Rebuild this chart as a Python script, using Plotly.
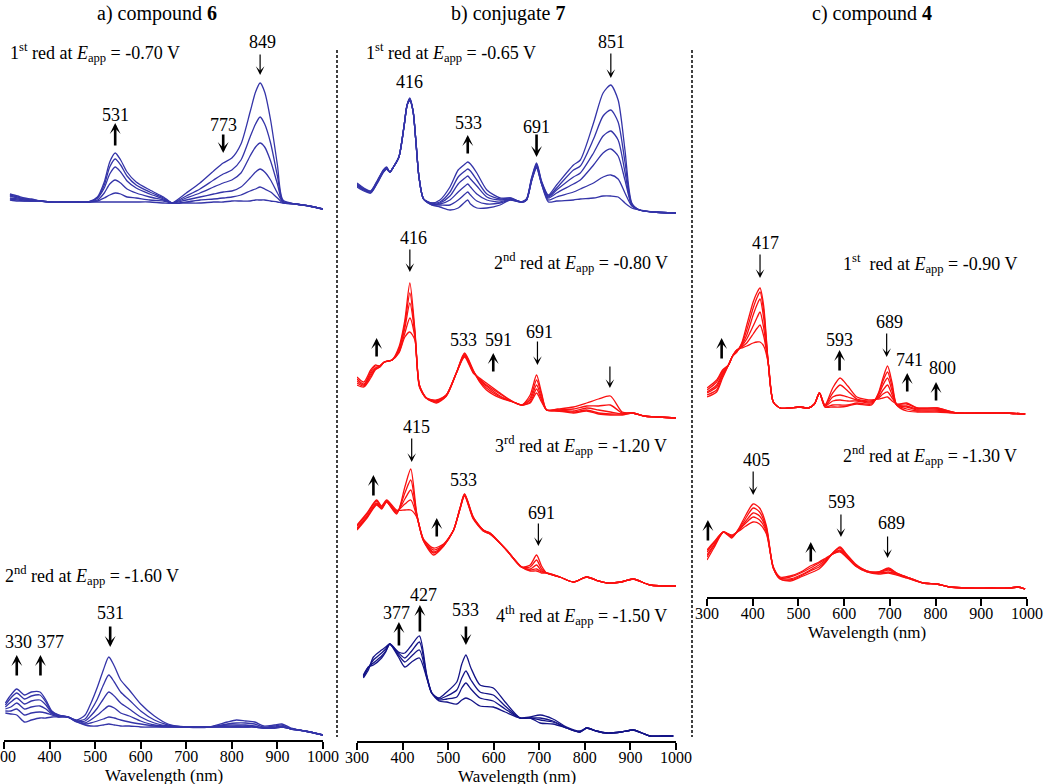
import plotly.graph_objects as go

W, H = 1050, 784
FONT = "Liberation Serif, Times New Roman, serif"
BLUE = "rgb(52,52,168)"
NAVY = "rgb(20,20,135)"
RED = "rgb(250,16,16)"

# ---- a) compound 6, 1st red (-0.70 V); absorbance in arbitrary units
wl_a1 = [313, 330, 345, 360, 380, 400, 430, 460, 485, 505, 520, 532, 544, 556, 570, 590, 620, 650, 669,
         700, 730, 760, 781, 800, 820, 840, 852, 862, 872, 885, 900, 912, 940, 970, 1000]
abs_a1 = [
    [10, 9, 9, 9, 9, 8, 8, 8, 8, 8, 8, 8, 8, 8, 8, 8, 8, 7, 7, 17, 27, 39, 47, 52, 66, 98, 118, 127, 118, 90, 45, 10, 6, 4, 1],
    [11, 10, 9, 9, 9, 8, 8, 8, 8, 9, 12, 15, 17, 16, 13, 12, 10, 9, 7, 14, 21, 30, 36, 40, 50, 73, 86, 93, 86, 67, 34, 9, 6, 4, 1],
    [12, 11, 10, 9, 9, 8, 8, 8, 8, 10, 17, 26, 30, 27, 21, 17, 13, 10, 7, 12, 17, 23, 27, 30, 37, 54, 63, 67, 63, 49, 26, 8, 6, 4, 1],
    [14, 12, 11, 10, 9, 8, 8, 8, 8, 12, 22, 36, 43, 38, 29, 22, 16, 11, 7, 10, 13, 16, 18, 19, 23, 32, 38, 41, 38, 30, 17, 8, 6, 4, 1],
    [15, 13, 11, 10, 9, 8, 8, 8, 8, 12, 25, 43, 51, 45, 34, 25, 18, 12, 7, 8, 10, 11, 12, 13, 15, 19, 21, 23, 21, 18, 12, 7, 6, 4, 1],
    [16, 14, 12, 11, 9, 8, 8, 8, 8, 13, 28, 48, 57, 50, 38, 28, 20, 13, 7, 7, 7, 8, 8, 9, 9, 9, 10, 10, 10, 9, 8, 7, 6, 4, 1],
]

# ---- a) compound 6, 2nd red (-1.60 V)
wl_a2 = [303, 315, 328, 345, 360, 379, 392, 405, 420, 440, 460, 478, 490, 505, 518, 530, 542, 556, 575, 600,
         630, 660, 700, 750, 790, 810, 830, 850, 870, 893, 910, 930, 960, 1000]
abs_a2 = [
    [27, 26, 25, 18, 20, 22, 22, 23, 23, 23, 20, 25, 36, 53, 70, 83, 74, 60, 50, 36, 24, 16, 13, 13, 18, 20, 19, 18, 14, 15, 16, 12, 9, 5],
    [29, 29, 31, 25, 27, 28, 27, 25, 23, 23, 19, 21, 29, 41, 55, 65, 58, 48, 40, 29, 20, 15, 13, 13, 16, 17, 17, 16, 13, 14, 15, 11, 9, 5],
    [31, 33, 37, 31, 33, 34, 31, 26, 24, 23, 19, 19, 24, 32, 41, 48, 44, 37, 31, 23, 17, 14, 13, 13, 15, 15, 15, 14, 12, 13, 14, 11, 9, 5],
    [33, 38, 42, 36, 39, 40, 35, 27, 24, 23, 19, 17, 20, 25, 30, 34, 32, 27, 24, 19, 15, 14, 13, 13, 14, 14, 14, 13, 12, 12, 13, 11, 9, 5],
    [35, 42, 47, 41, 44, 45, 38, 28, 25, 23, 18, 16, 17, 19, 21, 23, 22, 20, 18, 16, 14, 13, 13, 13, 13, 13, 13, 13, 12, 12, 13, 11, 9, 5],
    [37, 45, 51, 45, 48, 48, 40, 29, 25, 23, 18, 15, 14, 14, 15, 16, 15, 14, 14, 13, 13, 13, 13, 13, 13, 13, 13, 13, 12, 12, 13, 11, 9, 5],
]

# ---- b) conjugate 7, 1st red (-0.65 V)
wl_b1 = [300, 315, 330, 345, 358, 365, 372, 380, 392, 403, 410, 416, 423, 429, 436, 446, 464,
         482, 504, 522, 537, 543, 549, 563, 585, 614, 636, 661, 672, 683, 694, 705,
         720, 738, 775, 790, 819, 840, 857, 873, 888, 903, 920, 950, 1000]
abs_b1 = [
    [28, 24, 22, 32, 43, 46, 43, 48, 58, 88, 110, 117, 104, 75, 38, 16, 10, 8, 5, 7, 13, 15, 11, 7, 7, 10, 15, 13, 16, 37, 52, 34, 20, 30, 50, 55, 92, 122, 130, 115, 65, 12, 5, 3, 2],
    [29, 25, 22, 33, 43, 46, 43, 48, 58, 88, 110, 116, 104, 75, 38, 16, 10, 10, 10, 15, 21, 23, 20, 14, 11, 12, 15, 13, 16, 36, 51, 33, 19, 27, 45, 49, 76, 99, 105, 93, 53, 11, 5, 3, 2],
    [30, 25, 23, 33, 44, 47, 43, 48, 58, 88, 110, 116, 104, 75, 38, 16, 11, 11, 15, 23, 29, 31, 28, 21, 15, 13, 16, 13, 15, 35, 50, 32, 18, 25, 38, 42, 62, 79, 84, 75, 43, 10, 5, 3, 2],
    [30, 26, 23, 34, 44, 47, 43, 48, 58, 88, 110, 115, 104, 75, 38, 16, 11, 12, 19, 31, 37, 39, 36, 29, 18, 15, 16, 13, 15, 35, 49, 32, 17, 22, 31, 35, 50, 62, 66, 59, 35, 10, 5, 3, 2],
    [31, 26, 24, 34, 45, 47, 43, 48, 58, 88, 110, 115, 104, 75, 38, 16, 12, 13, 23, 38, 44, 46, 44, 35, 21, 16, 17, 13, 15, 34, 48, 31, 15, 18, 23, 26, 32, 38, 40, 36, 22, 9, 5, 3, 2],
    [32, 27, 24, 35, 45, 48, 43, 48, 58, 88, 110, 114, 104, 75, 38, 16, 12, 15, 28, 45, 51, 53, 51, 42, 25, 17, 17, 13, 15, 34, 47, 31, 13, 14, 15, 16, 17, 19, 19, 18, 12, 7, 5, 3, 2],
]

# ---- b) conjugate 7, 2nd red (-0.80 V)
wl_b2 = [300, 315, 330, 340, 350, 360, 377, 392, 405, 416, 427, 437, 452, 474, 496, 518, 536, 555, 569, 584,
         614, 643, 662, 680, 694, 705, 716, 740, 775, 804, 830, 856, 882, 905, 930, 960, 1000]
abs_b2 = [
    [35, 33, 42, 50, 53, 58, 60, 73, 100, 137, 90, 35, 22, 17, 24, 47, 67, 50, 38, 30, 22, 18, 15, 25, 45, 27, 10, 11, 13, 17, 21, 24, 8, 7, 4, 3, 2],
    [37, 34, 44, 51, 53, 58, 60, 71, 96, 127, 88, 35, 22, 18, 24, 47, 66, 49, 39, 32, 23, 18, 15, 22, 40, 25, 10, 10, 11, 14, 14, 15, 7, 7, 4, 3, 2],
    [39, 35, 46, 52, 54, 58, 60, 70, 92, 117, 86, 34, 22, 19, 25, 47, 65, 49, 40, 34, 24, 18, 15, 20, 35, 22, 10, 10, 9, 12, 10, 8, 6, 7, 4, 3, 2],
    [41, 36, 48, 54, 54, 58, 60, 68, 87, 102, 83, 34, 22, 19, 25, 47, 64, 48, 41, 35, 26, 18, 15, 18, 31, 20, 10, 9, 8, 10, 7, 6, 6, 7, 4, 3, 2],
    [43, 38, 50, 55, 54, 58, 60, 67, 83, 88, 80, 33, 22, 20, 25, 47, 63, 47, 42, 37, 27, 18, 15, 17, 27, 18, 10, 9, 7, 9, 6, 5, 5, 7, 4, 3, 2],
]

# ---- b) conjugate 7, 3rd red (-1.20 V)
wl_b3 = [300, 322, 343, 354, 365, 387, 405, 418, 431, 446, 468, 490, 512, 526, 536, 555, 577, 592, 628, 661,
         680, 694, 705, 716, 745, 775, 804, 830, 848, 880, 906, 943, 1000]
abs_b3 = [
    [60, 72, 85, 81, 88, 76, 103, 121, 77, 49, 35, 44, 60, 82, 96, 73, 60, 57, 40, 23, 25, 35, 24, 17, 13, 8, 13, 9, 7, 8, 11, 5, 4],
    [61, 73, 86, 82, 88, 77, 97, 110, 76, 49, 37, 44, 60, 82, 96, 73, 60, 57, 40, 23, 23, 30, 21, 17, 13, 8, 13, 9, 7, 8, 11, 5, 4],
    [62, 74, 87, 82, 89, 78, 91, 100, 75, 50, 38, 45, 60, 81, 95, 72, 60, 56, 40, 23, 21, 25, 19, 17, 13, 8, 13, 9, 7, 8, 11, 5, 4],
    [64, 76, 89, 83, 89, 79, 86, 90, 74, 50, 40, 45, 60, 81, 95, 72, 59, 56, 40, 23, 20, 21, 18, 17, 13, 8, 13, 9, 7, 8, 11, 5, 4],
    [65, 77, 90, 84, 90, 80, 80, 80, 73, 51, 42, 46, 60, 81, 94, 71, 59, 56, 40, 23, 19, 19, 17, 17, 13, 8, 13, 9, 7, 8, 11, 5, 4],
]

# ---- b) conjugate 7, 4th red (-1.50 V)
wl_b4 = [314, 325, 336, 354, 363, 372, 391, 405, 420, 437, 453, 464, 480, 497, 519, 530, 539, 550, 570, 599,
         625, 658, 680, 702, 730, 760, 789, 804, 825, 848, 880, 906, 925, 943, 970, 994]
abs_b4 = [
    [64, 72, 85, 92, 95, 98, 85, 75, 80, 84, 64, 49, 44, 50, 60, 78, 87, 74, 57, 54, 40, 24, 24, 19, 18, 14, 10, 14, 11, 9, 10, 12, 9, 6, 6, 6],
    [65, 74, 82, 89, 93, 98, 87, 80, 86, 92, 65, 49, 43, 46, 52, 64, 71, 62, 50, 47, 36, 24, 24, 22, 20, 14, 10, 14, 11, 9, 10, 12, 9, 6, 6, 6],
    [66, 75, 79, 86, 91, 98, 89, 84, 91, 100, 66, 49, 42, 43, 45, 54, 59, 53, 44, 41, 33, 24, 24, 24, 21, 14, 10, 14, 11, 9, 10, 12, 9, 6, 6, 6],
    [67, 75, 77, 84, 90, 98, 90, 89, 97, 106, 67, 49, 41, 40, 38, 42, 44, 42, 36, 35, 30, 24, 25, 27, 23, 15, 11, 14, 11, 9, 10, 12, 9, 6, 6, 6],
]

# ---- c) compound 4, 1st red (-0.90 V)
wl_c1 = [300, 321, 334, 347, 356, 365, 376, 387, 401, 410, 416, 424, 434, 445, 460, 480, 503, 522, 535, 546,
         558, 575, 591, 608, 628, 660, 675, 685, 695, 705, 715, 737, 760, 803, 846, 900, 950, 996]
abs_c1 = [
    [21, 26, 40, 53, 62, 66, 75, 93, 116, 126, 130, 112, 55, 16, 10, 10, 11, 10, 14, 25, 11, 11, 11, 12, 14, 13, 25, 40, 52, 35, 13, 7, 6, 6, 5, 5, 5, 4],
    [23, 28, 42, 53, 62, 66, 74, 88, 110, 121, 126, 107, 55, 16, 10, 10, 11, 10, 14, 25, 11, 13, 13, 13, 15, 14, 24, 37, 46, 31, 13, 9, 7, 7, 5, 5, 5, 4],
    [25, 31, 44, 53, 62, 67, 73, 83, 103, 114, 119, 100, 55, 16, 10, 10, 11, 10, 14, 25, 12, 17, 18, 17, 17, 15, 23, 33, 40, 27, 13, 11, 8, 8, 5, 5, 5, 4],
    [26, 33, 45, 53, 62, 67, 72, 79, 92, 101, 106, 90, 55, 16, 10, 10, 11, 10, 14, 25, 12, 21, 23, 21, 18, 16, 21, 28, 33, 23, 13, 12, 9, 9, 5, 5, 5, 4],
    [28, 36, 47, 53, 62, 68, 71, 75, 84, 90, 93, 82, 55, 16, 10, 10, 11, 10, 14, 25, 13, 25, 33, 27, 19, 17, 20, 24, 26, 20, 14, 14, 10, 10, 5, 5, 5, 4],
    [30, 38, 48, 53, 62, 68, 70, 72, 75, 76, 76, 72, 55, 16, 10, 10, 11, 10, 14, 25, 13, 30, 40, 32, 21, 18, 19, 20, 21, 17, 14, 15, 10, 10, 5, 5, 5, 4],
]

# ---- c) compound 4, 2nd red (-1.30 V)
wl_c2 = [300, 315, 336, 354, 370, 385, 401, 415, 430, 445, 460, 482, 505, 526, 545, 560, 575, 591, 605, 625,
         650, 675, 697, 715, 737, 773, 803, 830, 870, 920, 964, 980, 996]
abs_c2 = [
    [38, 50, 66, 60, 70, 83, 94, 90, 72, 30, 19, 17, 21, 25, 29, 36, 45, 51, 44, 34, 27, 26, 30, 25, 21, 15, 14, 11, 10, 10, 10, 11, 9],
    [41, 52, 66, 61, 69, 80, 90, 86, 70, 30, 19, 18, 22, 27, 31, 37, 45, 50, 43, 33, 27, 26, 29, 25, 21, 15, 14, 11, 10, 10, 10, 11, 9],
    [43, 53, 66, 62, 68, 77, 85, 82, 68, 30, 20, 19, 23, 28, 33, 38, 44, 48, 42, 33, 27, 25, 28, 24, 21, 15, 14, 11, 10, 10, 10, 11, 9],
    [46, 55, 66, 62, 68, 75, 81, 78, 66, 31, 20, 21, 25, 30, 35, 39, 44, 47, 41, 32, 26, 25, 26, 24, 20, 15, 14, 11, 10, 10, 10, 11, 9],
    [48, 56, 66, 63, 67, 72, 76, 74, 64, 31, 21, 22, 26, 32, 36, 40, 44, 46, 41, 32, 26, 24, 25, 23, 20, 15, 14, 11, 10, 10, 10, 11, 9],
]

# panel: key, data, column, baseline px, top px, colour
panels = [
    ("a1", wl_a1, abs_a1, 1, 210, 30, BLUE),
    ("a2", wl_a2, abs_a2, 1, 740, 550, BLUE),
    ("b1", wl_b1, abs_b1, 2, 215, 30, BLUE),
    ("b2", wl_b2, abs_b2, 2, 420, 220, RED),
    ("b3", wl_b3, abs_b3, 2, 590, 410, RED),
    ("b4", wl_b4, abs_b4, 2, 742, 580, NAVY),
    ("c1", wl_c1, abs_c1, 3, 418, 230, RED),
    ("c2", wl_c2, abs_c2, 3, 598, 430, RED),
]

# condition labels (panel, text, wavelength, absorbance)
cond_labels = [
    ("a1", "1<sup>st</sup> red at <i>E</i><sub>app</sub> = -0.70 V", 500, 157),
    ("a2", "2<sup>nd</sup> red at <i>E</i><sub>app</sub> = -1.60 V", 493, 165),
    ("b1", "1<sup>st</sup> red at <i>E</i><sub>app</sub> = -0.65 V", 506, 162),
    ("b2", "2<sup>nd</sup> red at <i>E</i><sub>app</sub> = -0.80 V", 792, 157),
    ("b3", "3<sup>rd</sup> red at <i>E</i><sub>app</sub> = -1.20 V", 792, 145),
    ("b4", "4<sup>th</sup> red at <i>E</i><sub>app</sub> = -1.50 V", 792, 127),
    ("c1", "1<sup>st</sup>  red at <i>E</i><sub>app</sub> = -0.90 V", 788, 155),
    ("c2", "2<sup>nd</sup> red at <i>E</i><sub>app</sub> = -1.30 V", 788, 143),
]

# peak wavelength labels (panel, text, wavelength, absorbance)
peak_labels = [
    ("a1", "531", 544, 95), ("a1", "773", 781, 85), ("a1", "849", 868, 168),
    ("a2", "330", 331, 98), ("a2", "377", 402, 98), ("a2", "531", 533, 127),
    ("b1", "416", 416, 133), ("b1", "533", 544, 92), ("b1", "691", 694, 88), ("b1", "851", 859, 173),
    ("b2", "416", 425, 182), ("b2", "533", 533, 80), ("b2", "591", 610, 80), ("b2", "691", 700, 88),
    ("b3", "415", 431, 163), ("b3", "533", 533, 110), ("b3", "691", 705, 77),
    ("b4", "377", 387, 129), ("b4", "427", 446, 147), ("b4", "533", 539, 132),
    ("c1", "417", 427, 175), ("c1", "593", 590, 78), ("c1", "689", 700, 96),
    ("c1", "741", 744, 58), ("c1", "800", 815, 50),
    ("c2", "405", 409, 138), ("c2", "593", 595, 96), ("c2", "689", 704, 75),
]

# change arrows (panel, wavelength, tip, tail, bold)
change_arrows = [
    ("a1", 544, 87, 63, True), ("a1", 781, 57, 77, True), ("a1", 862, 135, 157, False),
    ("a2", 328, 85, 63, True), ("a2", 380, 85, 63, True), ("a2", 533, 93, 115, True),
    ("b1", 543, 80, 60, True), ("b1", 694, 58, 82, True), ("b1", 857, 137, 163, False),
    ("b2", 416, 148, 172, False), ("b2", 599, 67, 47, True), ("b2", 696, 55, 80, False),
    ("b2", 343, 82, 62, True), ("b2", 855, 32, 55, False),
    ("b3", 420, 128, 153, False), ("b3", 698, 44, 68, False), ("b3", 336, 115, 93, True),
    ("b3", 475, 72, 52, True),
    ("b4", 392, 120, 95, True), ("b4", 438, 137, 109, True), ("b4", 539, 97, 117, True),
    ("c1", 416, 140, 165, False), ("c1", 590, 68, 46, True), ("c1", 693, 61, 86, False),
    ("c1", 738, 45, 25, True), ("c1", 801, 36, 16, True), ("c1", 332, 80, 58, True),
    ("c2", 401, 103, 128, False), ("c2", 593, 61, 85, False), ("c2", 695, 40, 63, False),
    ("c2", 302, 78, 56, True), ("c2", 527, 56, 35, True),
]

col_domain = {1: [4 / W, 323 / W], 2: [357 / W, 676 / W], 3: [707 / W, 1027 / W]}
col_axis_y = {1: 741, 2: 742, 3: 598}

fig = go.Figure()
refs = {}
layout = {}
for i, (key, wl, spectra, col, yb, yt, color) in enumerate(panels):
    yname = "y" if i == 0 else f"y{i + 1}"
    xname = "x" if col == 1 else f"x{col}"
    refs[key] = (xname, yname)
    layout["yaxis" if i == 0 else f"yaxis{i + 1}"] = dict(
        domain=[1 - yb / H, 1 - yt / H], range=[0, yb - yt], visible=False,
        anchor=xname, fixedrange=True, automargin=False)
    for spec in spectra:
        fig.add_trace(go.Scatter(
            x=wl, y=spec, mode="lines", xaxis=xname, yaxis=yname,
            line=dict(color=color, width=1.3, shape="spline", smoothing=0.7),
            hoverinfo="skip", showlegend=False))

for col in (1, 2, 3):
    layout["xaxis" if col == 1 else f"xaxis{col}"] = dict(
        domain=col_domain[col], anchor="free", position=1 - col_axis_y[col] / H,
        range=[300, 1000], tickvals=list(range(300, 1001, 100)),
        ticks="outside", ticklen=7, tickwidth=1.5, tickcolor="black",
        ticklabelstandoff=-6, ticklabeloverflow="allow",
        showline=True, linecolor="black", linewidth=1.5,
        showgrid=False, zeroline=False, automargin=False, fixedrange=True,
        tickfont=dict(family=FONT, size=16, color="black"))
    # axis title written as a label under the tick numbers
    fig.add_annotation(x=sum(col_domain[col]) / 2, y=1 - (col_axis_y[col] + 34) / H,
                       xref="paper", yref="paper", text="Wavelength (nm)", showarrow=False,
                       xanchor="center", yanchor="middle",
                       font=dict(family=FONT, size=17, color="black"))

fig.update_layout(
    width=W, height=H, margin=dict(l=0, r=0, t=0, b=0, autoexpand=False),
    paper_bgcolor="white", plot_bgcolor="rgba(0,0,0,0)", showlegend=False,
    font=dict(family=FONT, color="black"), **layout)

for key, text, wl, a in cond_labels:
    xr, yr = refs[key]
    fig.add_annotation(x=wl, y=a, xref=xr, yref=yr, text=text, showarrow=False,
                       xanchor="center", yanchor="middle",
                       font=dict(family=FONT, size=18, color="black"))

for key, text, wl, a in peak_labels:
    xr, yr = refs[key]
    fig.add_annotation(x=wl, y=a, xref=xr, yref=yr, text=text, showarrow=False,
                       xanchor="center", yanchor="middle",
                       font=dict(family=FONT, size=18, color="black"))

for key, wl, tip, tail, bold in change_arrows:
    xr, yr = refs[key]
    fig.add_annotation(x=wl, y=tip, xref=xr, yref=yr, text="", showarrow=True,
                       ax=0, ay=tip - tail, arrowhead=3, arrowcolor="black",
                       arrowwidth=2.6 if bold else 1.2, arrowsize=0.7 if bold else 1.2)

# column titles
titles = [("a) compound <b>6</b>", 157), ("b) conjugate <b>7</b>", 508), ("c) compound <b>4</b>", 872)]
for text, px in titles:
    fig.add_annotation(x=px / W, y=1 - 13 / H, xref="paper", yref="paper", text=text,
                       showarrow=False, xanchor="center", yanchor="middle",
                       font=dict(family=FONT, size=20, color="black"))

# dashed separators
for px in (337, 692):
    fig.add_shape(type="line", xref="paper", yref="paper", x0=px / W, x1=px / W,
                  y0=1 - 50 / H, y1=1 - 737 / H,
                  line=dict(color="black", width=1.5, dash="3px,2px"))

# the page's default body margin would shift the figure by 8 px
fig.write_html("out.html", config={"displayModeBar": False},
               post_script="document.body.style.margin='0';")
